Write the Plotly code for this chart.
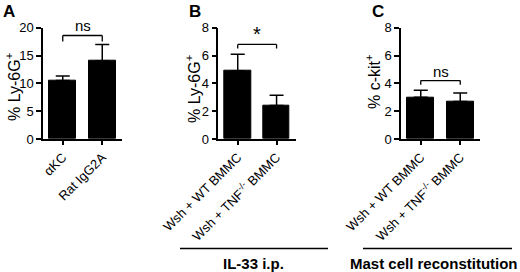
import plotly.graph_objects as go

FONT = "Arial, Liberation Sans, sans-serif"

# Panel A
cats_a = ["αKC", "Rat IgG2A"]
vals_a = [10.5, 14.0]
err_a = [0.8, 3.0]
# Panel B
cats_b = ["Wsh + WT BMMC", "Wsh + TNF<sup>-/-</sup> BMMC"]
vals_b = [4.9, 2.4]
err_b = [1.2, 0.75]
# Panel C
cats_c = ["Wsh + WT BMMC", "Wsh + TNF<sup>-/-</sup> BMMC"]
vals_c = [3.0, 2.7]
err_c = [0.5, 0.6]

ytitles = ["% Ly-6G<sup>+</sup>", "% Ly-6G<sup>+</sup>", "% c-kit<sup>+</sup>"]
yranges = [[0, 20], [0, 8], [0, 8]]
ydticks = [5, 2, 2]
sig_labels = ["ns", "*", "ns"]
sig_heights = [18.6, 6.8, 4.2]
sig_drops = [1.1, 0.3, 0.3]
panel_letters = ["A", "B", "C"]
group_labels = ["IL-33 i.p.", "Mast cell reconstitution"]

W, H = 520, 272
xdom_px = [(43, 122), (218.3, 296), (401, 480)]
ydom_px = (139, 27.7)
ydom = [1 - ydom_px[0] / H, 1 - ydom_px[1] / H]

fig = go.Figure()
panels = [(cats_a, vals_a, err_a), (cats_b, vals_b, err_b), (cats_c, vals_c, err_c)]
for i, (cats, vals, errs) in enumerate(panels):
    n = i + 1
    xa = "x" if n == 1 else f"x{n}"
    ya = "y" if n == 1 else f"y{n}"
    pos = list(range(len(cats)))
    fig.add_trace(go.Bar(
        x=pos, y=vals, width=0.68, xaxis=xa, yaxis=ya,
        marker=dict(color="black", line=dict(color="black", width=1)),
        error_y=dict(type="data", symmetric=False, array=errs,
                     arrayminus=[0] * len(errs), color="black",
                     thickness=1.5, width=7),
        showlegend=False, hoverinfo="skip",
    ))
    xkey = "xaxis" if n == 1 else f"xaxis{n}"
    ykey = "yaxis" if n == 1 else f"yaxis{n}"
    fig.update_layout(**{
        xkey: dict(domain=[xdom_px[i][0] / W, xdom_px[i][1] / W], anchor=ya,
                   range=[-0.5, 1.5], tickvals=pos, ticktext=cats, automargin=False,
                   tickangle=-45, ticks="outside", ticklen=4, tickwidth=1.5,
                   tickcolor="black", showline=True, linecolor="black",
                   linewidth=1.5, showgrid=False, zeroline=False,
                   tickfont=dict(family=FONT, size=13, color="black")),
        ykey: dict(domain=ydom, anchor=xa, range=yranges[i], dtick=ydticks[i],
                   automargin=False,
                   ticks="outside", ticklen=5, tickwidth=1.5, tickcolor="black",
                   showline=True, linecolor="black", linewidth=1.5,
                   showgrid=False, zeroline=False,
                   tickfont=dict(family=FONT, size=13, color="black")),
    })
    # significance bracket
    h, d = sig_heights[i], sig_drops[i]
    for (x0, y0, x1, y1) in [(pos[0], h, pos[1], h), (pos[0], h - d, pos[0], h),
                             (pos[1], h - d, pos[1], h)]:
        fig.add_shape(type="line", xref=xa, yref=ya, x0=x0, y0=y0, x1=x1, y1=y1,
                      line=dict(color="black", width=1.3))
    star = sig_labels[i] == "*"
    fig.add_annotation(xref=xa, yref=ya, x=0.5, y=h, text=sig_labels[i],
                       showarrow=False, yanchor="bottom", yshift=-3 if star else -1,
                       font=dict(family=FONT, size=20 if star else 15, color="black"))

# y titles
ytitle_pos = [(13, 87), (193, 89), (373, 82)]
for (xp, yp), t in zip(ytitle_pos, ytitles):
    fig.add_annotation(xref="paper", yref="paper", x=xp / W, y=1 - yp / H, text=t,
                       textangle=-90, showarrow=False, xanchor="center", yanchor="middle",
                       font=dict(family=FONT, size=16, color="black"))

# panel letters
for (xp, yp), t in zip([(9, 12), (195, 12), (378, 12)], panel_letters):
    fig.add_annotation(xref="paper", yref="paper", x=xp / W, y=1 - yp / H, text=f"<b>{t}</b>",
                       showarrow=False, xanchor="center", yanchor="middle",
                       font=dict(family=FONT, size=17, color="black"))

# group lines and labels
for (x0, x1), xc, t in zip([(180, 328), (363, 512)], [253, 434], group_labels):
    fig.add_shape(type="line", xref="paper", yref="paper", x0=x0 / W, x1=x1 / W,
                  y0=1 - 248.5 / H, y1=1 - 248.5 / H, line=dict(color="black", width=1.3))
    fig.add_annotation(xref="paper", yref="paper", x=xc / W, y=1 - 263 / H,
                       text=f"<b>{t}</b>", showarrow=False, xanchor="center", yanchor="middle",
                       font=dict(family=FONT, size=15, color="black"))

fig.update_layout(width=W, height=H, autosize=False, margin=dict(l=0, r=0, t=0, b=0),
                  paper_bgcolor="white", plot_bgcolor="white", bargap=0)
fig.write_html("out.html", config={"displayModeBar": False},
               post_script="document.body.style.margin='0';document.body.style.padding='0';"
                           "document.body.style.overflow='hidden';")
